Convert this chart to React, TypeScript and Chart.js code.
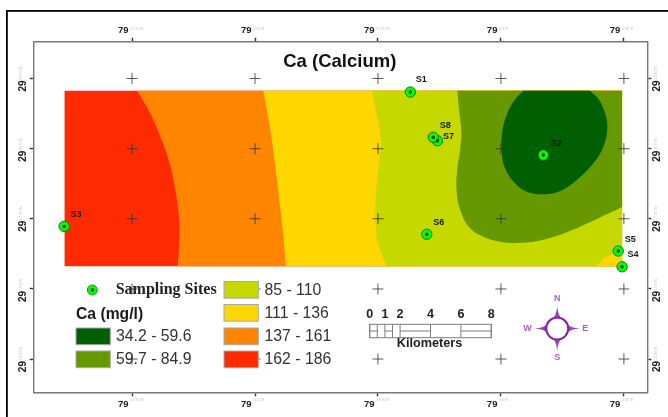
import React, { useEffect, useRef } from "react";
import { Chart, registerables } from "chart.js";

Chart.register(...registerables);

// All map values in km from the raster's SW corner
const rasterX = [0, 0, 36.68, 36.68];
const rasterY = [11.55, 0, 0, 11.55];
const gridX = [4.44, 12.53, 20.62, 28.71, 36.8];
const gridY = [-6.1, -1.49, 3.13, 7.74, 12.36];

const redOrangeX = [4.79, 5.63, 6.39, 6.94, 7.27, 7.53, 7.55, 7.45];
const redOrangeY = [11.55, 10.07, 8.31, 6.67, 5.13, 3.16, 1.84, 0];
const orangeYellowX = [13.08, 13.52, 13.85, 14.11, 14.36, 14.57];
const orangeYellowY = [11.55, 9.08, 6.66, 4.47, 2.28, 0];
const yellowLimeX = [20.21, 20.47, 20.8, 20.69, 20.47, 20.47, 20.69, 21.2];
const yellowLimeY = [11.55, 10.28, 8.31, 6.99, 4.36, 2.59, 1.27, 0];
const limeGreenX = [25.84, 25.97, 26.1, 26.02, 25.84, 25.8, 26.07, 26.68, 27.55, 28.65, 29.79, 31.33, 33.08, 35.05, 36.68];
const limeGreenY = [11.55, 10.17, 8.86, 7.65, 6.45, 4.91, 3.59, 2.5, 1.95, 1.62, 1.53, 1.71, 2.26, 3.13, 3.9];
const darkCoreX = [30.18, 29.53, 29.09, 28.8, 28.76, 28.98, 29.64, 30.41, 31.5, 32.6, 33.7, 34.79, 35.45, 35.71, 35.56, 35.12, 34.57];
const darkCoreY = [11.55, 10.83, 9.95, 8.86, 7.54, 6.45, 5.46, 4.91, 4.74, 4.95, 5.68, 6.78, 7.87, 9.08, 10.07, 11.01, 11.55];
const cornerX = [34.95, 35.61, 36.38, 36.68];
const cornerY = [0, 0.61, 0.83, 0.94];

const siteNames = ["S1", "S2", "S3", "S4", "S5", "S6", "S7", "S8"];
const siteX = [22.75, 31.5, -0.03, 36.68, 36.43, 23.83, 24.53, 24.26];
const siteY = [11.47, 7.32, 2.63, -0.03, 1.01, 2.11, 8.26, 8.49];

const classLabels = ["34.2 - 59.6", "59.7 - 84.9", "85 - 110", "111 - 136", "137 - 161", "162 - 186"];
const classColors = ["#005f00", "#669900", "#c5d900", "#ffd700", "#ff8500", "#ff2b00"];

const xTickLabel = "79";
const yTickLabel = "29";
const xTickSuffix = ["52'30\"E", "55'0\"E", "57'30\"E", "0'0\"E", "2'30\"E"];
const yTickSuffix = ["12'30\"N", "15'0\"N", "17'30\"N", "20'0\"N", "22'30\"N"];

const scaleStops = [0, 0.5, 1, 1.5, 2, 4, 6, 8];
const scaleFilled = [[0, 0.5], [1, 1.5], [2, 4], [6, 8]];
const scaleLabels = [0, 1, 2, 4, 6, 8];

const SANS = '"Liberation Sans", Arial, sans-serif';
const SERIF = '"Liberation Serif", "Times New Roman", serif';

const dup = (a: number[]) => [a[0], ...a, a[a.length - 1]];
const pts = (xs: number[], ys: number[]) => xs.map((x, i) => ({ x, y: ys[i] }));

// a band: its left boundary, closed along the right edge of the raster
const band = (xs: number[], ys: number[]) => {
  const R = rasterX[2];
  const T = rasterY[0];
  const lastY = ys[ys.length - 1];
  const px = dup(xs);
  const py = dup(ys);
  const extra = lastY === 0 ? [{ x: R, y: 0 }, { x: R, y: 0 }] : [];
  return [...pts(px, py), ...extra, { x: R, y: T }, { x: R, y: T }, { x: xs[0], y: T }, { x: xs[0], y: T }];
};

const shape = (data: { x: number; y: number }[], color: string, tension = 0.4) => ({
  type: "scatter",
  data,
  showLine: true,
  fill: "shape",
  backgroundColor: color,
  borderWidth: 0,
  borderColor: "transparent",
  pointRadius: 0,
  tension,
});

const LABEL_OFFSET: Record<string, [number, number]> = {
  S1: [11, -12],
  S2: [13, -12],
  S3: [12, -12],
  S4: [11, -12],
  S5: [12, -11],
  S6: [12, -12],
  S7: [11, -4],
  S8: [12, -12],
};

const text = (ctx: CanvasRenderingContext2D, s: string, x: number, y: number, font: string, color: string, align: CanvasTextAlign = "left") => {
  ctx.font = font;
  ctx.fillStyle = color;
  ctx.textAlign = align;
  ctx.textBaseline = "middle";
  ctx.fillText(s, x, y);
};

const mapExtras = {
  id: "mapExtras",
  beforeDraw(chart: any) {
    const ctx = chart.ctx as CanvasRenderingContext2D;
    ctx.save();
    ctx.fillStyle = "#000";
    ctx.fillRect(6, 10, 662, 1.8);
    ctx.fillRect(6, 10, 1.8, 407);
    ctx.restore();
  },
  afterDatasetsDraw(chart: any) {
    const ctx = chart.ctx as CanvasRenderingContext2D;
    const { x, y } = chart.scales;
    ctx.save();

    // title
    text(ctx, "Ca (Calcium)", 339.8, 61.5, `bold 18.5px ${SANS}`, "#111", "center");

    // site labels
    siteNames.forEach((n, i) => {
      const [dx, dy] = LABEL_OFFSET[n];
      text(ctx, n, x.getPixelForValue(siteX[i]) + dx, y.getPixelForValue(siteY[i]) + dy, `bold 9px ${SANS}`, "#1a1a1a", "center");
    });

    // tiny axis suffixes
    gridX.forEach((v, i) => {
      const px = x.getPixelForValue(v);
      text(ctx, xTickSuffix[i], px - 2, 28.5, `4px ${SANS}`, "#c4c4c4");
      text(ctx, xTickSuffix[i], px - 2, 399.5, `4px ${SANS}`, "#c4c4c4");
    });
    gridY.forEach((v, i) => {
      const py = y.getPixelForValue(v);
      for (const ax of [21, 656]) {
        ctx.save();
        ctx.translate(ax, py + 1.5);
        ctx.rotate(-Math.PI / 2);
        text(ctx, yTickSuffix[i], 0, 0, `4px ${SANS}`, "#c4c4c4");
        ctx.restore();
      }
    });

    // legend
    const swatch = (sx: number, sy: number, c: string) => {
      ctx.fillStyle = c;
      ctx.fillRect(sx, sy, 34.3, 16.7);
      ctx.strokeStyle = "#a8a8a8";
      ctx.lineWidth = 1;
      ctx.strokeRect(sx, sy, 34.3, 16.7);
    };
    ctx.beginPath();
    ctx.arc(92.3, 290, 5, 0, Math.PI * 2);
    ctx.fillStyle = "#00ff00";
    ctx.fill();
    ctx.strokeStyle = "#2c8f2c";
    ctx.lineWidth = 1;
    ctx.stroke();
    ctx.beginPath();
    ctx.arc(92.3, 290, 1.7, 0, Math.PI * 2);
    ctx.fillStyle = "#0a2a0a";
    ctx.fill();
    text(ctx, "Sampling Sites", 115.7, 290, `bold 16px ${SERIF}`, "#222");
    text(ctx, "Ca (mg/l)", 76, 314.5, `bold 15.7px ${SANS}`, "#1a1a1a");
    const leftRows = [328, 351];
    const rightRows = [281.5, 304.5, 328, 351];
    classLabels.forEach((l, i) => {
      const left = i < 2;
      const sy = left ? leftRows[i] : rightRows[i - 2];
      swatch(left ? 76 : 224, sy, classColors[i]);
      text(ctx, l, left ? 116 : 264.5, sy + 8.8, `15.8px ${SANS}`, "#333");
    });

    // scale bar, drawn in km through the x scale
    const km = (v: number) => x.getPixelForValue(v) - x.getPixelForValue(0);
    const bx = 369.7;
    const by0 = 324.3;
    const by1 = 337.7;
    const bm = 331;
    ctx.strokeStyle = "#7c7c7c";
    ctx.lineWidth = 1;
    ctx.strokeRect(bx, by0, km(8), by1 - by0);
    ctx.beginPath();
    scaleStops.forEach((s) => {
      ctx.moveTo(bx + km(s), by0);
      ctx.lineTo(bx + km(s), by1);
    });
    scaleFilled.forEach(([a, b]) => {
      ctx.moveTo(bx + km(a), bm);
      ctx.lineTo(bx + km(b), bm);
    });
    ctx.stroke();
    scaleLabels.forEach((s) => {
      text(ctx, String(s), bx + km(s), 314.5, `bold 12.5px ${SANS}`, "#222", "center");
    });
    text(ctx, "Kilometers", 429.5, 343.7, `bold 12.7px ${SANS}`, "#222", "center");

    // north arrow
    const cx = 557.2;
    const cy = 328.6;
    ctx.fillStyle = "#9a3fc0";
    for (let i = 0; i < 4; i++) {
      ctx.save();
      ctx.translate(cx, cy);
      ctx.rotate((i * Math.PI) / 2);
      ctx.beginPath();
      ctx.moveTo(0, -22.5);
      ctx.quadraticCurveTo(0.7, -14, 4, -10);
      ctx.lineTo(-4, -10);
      ctx.quadraticCurveTo(-0.7, -14, 0, -22.5);
      ctx.fill();
      ctx.restore();
    }
    ctx.beginPath();
    ctx.arc(cx, cy, 11, 0, Math.PI * 2);
    ctx.fillStyle = "#fff";
    ctx.fill();
    ctx.strokeStyle = "#8a1fa8";
    ctx.lineWidth = 2;
    ctx.stroke();
    const cf = `bold 9px ${SANS}`;
    text(ctx, "N", 557.3, 299, cf, "#a95fd0", "center");
    text(ctx, "S", 557.3, 358, cf, "#a95fd0", "center");
    text(ctx, "W", 527.5, 329, cf, "#a95fd0", "center");
    text(ctx, "E", 585.3, 329, cf, "#a95fd0", "center");
    ctx.restore();
  },
};

const axisCommon = (values: number[]) => ({
  type: "linear",
  afterBuildTicks: (axis: any) => {
    axis.ticks = values.map((value) => ({ value }));
  },
  grid: { drawOnChartArea: false, drawTicks: true, tickLength: 4, tickColor: "#333", tickWidth: 1.4 },
  border: { display: true, color: "#777", width: 1.4 },
});

export default function App() {
  const ref = useRef<HTMLCanvasElement>(null);
  useEffect(() => {
    document.body.style.margin = "0";
    const xRange = { min: -2.03, max: 38.34 };
    const yRange = { min: -8.29, max: 14.78 };
    const xTicks = (extra: any) => ({
      callback: () => xTickLabel,
      font: { family: SANS, weight: "bold", size: 9.5 },
      color: "#222",
      autoSkip: false,
      maxRotation: 0,
      minRotation: 0,
      align: "end",
      labelOffset: -3.5,
      ...extra,
    });
    const yTicks = (extra: any) => ({
      callback: () => yTickLabel,
      font: { family: SANS, weight: "bold", size: 10 },
      color: "#222",
      autoSkip: false,
      minRotation: 90,
      maxRotation: 90,
      ...extra,
    });
    const layered = [
      shape(pts(rasterX, rasterY), classColors[5], 0),
      shape(band(redOrangeX, redOrangeY), classColors[4]),
      shape(band(orangeYellowX, orangeYellowY), classColors[3]),
      shape(band(yellowLimeX, yellowLimeY), classColors[2]),
      shape(band(limeGreenX, limeGreenY), classColors[1]),
      shape(pts(dup(darkCoreX), dup(darkCoreY)), classColors[0]),
      shape(pts(dup(cornerX), dup(cornerY)).concat([{ x: 36.68, y: 0 }, { x: 36.68, y: 0 }]), classColors[3]),
    ];
    const crosses = gridX.flatMap((x) => gridY.map((y) => ({ x, y })));
    const overlays = [
      {
        type: "scatter",
        data: crosses,
        pointStyle: "cross",
        pointRadius: 5.5,
        borderColor: "rgba(50,50,50,0.8)",
        pointBorderWidth: 1,
        backgroundColor: "transparent",
      },
      {
        type: "scatter",
        data: pts(siteX, siteY),
        pointRadius: 5.2,
        backgroundColor: "#00ff00",
        borderColor: "rgba(10,110,10,0.9)",
        pointBorderWidth: 1,
        clip: false,
      },
      {
        type: "scatter",
        data: pts(siteX, siteY),
        pointRadius: 1.7,
        backgroundColor: "#0a2a0a",
        borderColor: "#0a2a0a",
        pointBorderWidth: 0,
        clip: false,
      },
    ];
    const datasets = [...layered, ...overlays].reverse();
    const chart = new Chart(ref.current as HTMLCanvasElement, {
      type: "scatter",
      data: { datasets: datasets as any },
      plugins: [mapExtras],
      options: {
        animation: false,
        responsive: false,
        layout: { padding: 0 },
        plugins: { legend: { display: false }, tooltip: { enabled: false }, title: { display: false } },
        scales: {
          x: {
            ...axisCommon(gridX),
            ...xRange,
            position: "bottom",
            ticks: xTicks({ padding: 2 }),
            afterFit: (s: any) => { s.height = 24.7; },
          },
          xTop: {
            ...axisCommon(gridX),
            ...xRange,
            position: "top",
            ticks: xTicks({ padding: 2 }),
            afterFit: (s: any) => { s.height = 41.7; },
          },
          y: {
            ...axisCommon(gridY),
            ...yRange,
            position: "left",
            ticks: yTicks({ padding: 6, labelOffset: 2 }),
            afterFit: (s: any) => { s.width = 33.7; },
          },
          yRight: {
            ...axisCommon(gridY),
            ...yRange,
            position: "right",
            ticks: yTicks({ padding: 6, labelOffset: 13 }),
            afterFit: (s: any) => { s.width = 20.7; },
          },
        },
      } as any,
    });
    return () => chart.destroy();
  }, []);
  return (
    <canvas
      ref={ref}
      width={668}
      height={417}
      style={{ display: "block", width: 668, height: 417, filter: "blur(0.45px)" }}
    />
  );
}
